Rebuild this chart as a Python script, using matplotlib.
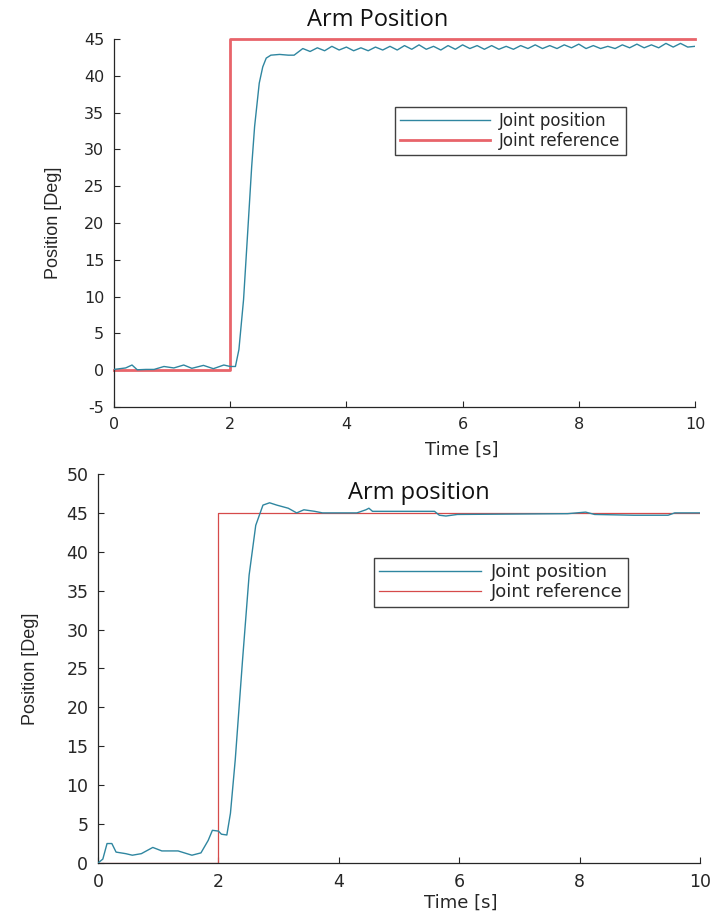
import matplotlib
matplotlib.use('Agg')
from matplotlib import pyplot as plt

plt.rcParams['axes.unicode_minus'] = False

# --- top plot: joint position ---
t1 = [0.0, 0.1, 0.2, 0.31, 0.4, 0.55, 0.69, 0.86, 1.03, 1.2, 1.34, 1.54, 1.71, 1.89,
      2.0, 2.09, 2.15, 2.23, 2.30, 2.37, 2.42, 2.50, 2.56, 2.62, 2.70, 2.85, 3.0, 3.1,
      3.25, 3.375, 3.5, 3.625, 3.75, 3.875, 4.0, 4.125, 4.25, 4.375, 4.5, 4.625,
      4.75, 4.875, 5.0, 5.125, 5.25, 5.375, 5.5, 5.625, 5.75, 5.875, 6.0, 6.125,
      6.25, 6.375, 6.5, 6.625, 6.75, 6.875, 7.0, 7.125, 7.25, 7.375, 7.5, 7.625,
      7.75, 7.875, 8.0, 8.125, 8.25, 8.375, 8.5, 8.625, 8.75, 8.875, 9.0, 9.125,
      9.25, 9.375, 9.5, 9.625, 9.75, 9.875, 10.0]
y1 = [0.1, 0.2, 0.3, 0.7, 0.05, 0.1, 0.1, 0.5, 0.3, 0.7, 0.25, 0.65, 0.2, 0.7,
      0.5, 0.5, 2.8, 9.6, 18.6, 27.7, 33.1, 39.0, 41.2, 42.4, 42.8, 42.9, 42.8, 42.8,
      43.7, 43.3, 43.8, 43.4, 44.0, 43.5, 43.9, 43.4, 43.8, 43.4, 43.9, 43.5,
      44.0, 43.5, 44.1, 43.6, 44.2, 43.6, 44.0, 43.5, 44.1, 43.6, 44.2, 43.7,
      44.1, 43.6, 44.1, 43.6, 44.0, 43.6, 44.1, 43.7, 44.2, 43.7, 44.1, 43.7,
      44.2, 43.8, 44.3, 43.7, 44.1, 43.7, 44.0, 43.7, 44.2, 43.8, 44.3, 43.8,
      44.2, 43.8, 44.4, 43.9, 44.4, 43.9, 44.0]

# --- bottom plot: joint position ---
t2 = [0.0, 0.08, 0.15, 0.23, 0.30, 0.46, 0.57, 0.72, 0.91, 1.06, 1.33, 1.56, 1.71,
      1.83, 1.90, 2.0, 2.05, 2.14, 2.20, 2.28, 2.40, 2.51, 2.62, 2.74, 2.85, 2.97,
      3.16, 3.30, 3.42, 3.60, 3.73, 4.30, 4.45, 4.50, 4.56, 5.59, 5.67, 5.78, 5.97,
      7.80, 8.10, 8.25, 8.90, 9.47, 9.58, 10.0]
y2 = [0.0, 0.5, 2.5, 2.5, 1.4, 1.2, 1.0, 1.2, 2.0, 1.55, 1.55, 1.0, 1.3,
      2.9, 4.2, 4.1, 3.7, 3.6, 6.4, 13.3, 26.0, 37.0, 43.4, 46.0, 46.3, 46.0,
      45.6, 45.0, 45.4, 45.2, 45.0, 45.0, 45.4, 45.6, 45.2, 45.2, 44.7, 44.6, 44.8,
      44.9, 45.1, 44.8, 44.7, 44.7, 45.0, 45.0]

# reference step (same for both)
ref_t = [0, 2, 2, 10]
ref_y = [0, 0, 45, 45]

txt = '#262626'
pos_col = '#2f86a0'

fig = plt.figure(figsize=(7.17, 9.17), dpi=100)
ax1 = fig.add_axes([0.159, 0.5562, 0.8103, 0.4013])
ax2 = fig.add_axes([0.1367, 0.0589, 0.8396, 0.4242])

ax1.plot(t1, y1, color=pos_col, lw=1.0, label='Joint position', zorder=3)
ax1.plot(ref_t, ref_y, color='#e8646a', lw=2.0, label='Joint reference', clip_on=False)
ax2.plot(t2, y2, color=pos_col, lw=1.0, label='Joint position', zorder=3)
ax2.plot(ref_t, ref_y, color='#d64a4a', lw=0.9, label='Joint reference')

ax1.set_ylim(-5, 45)
ax1.set_yticks(range(-5, 46, 5))
ax2.set_ylim(0, 50)
ax2.set_yticks(range(0, 51, 5))

for ax, fs in ((ax1, 11.5), (ax2, 12.5)):
    ax.set_xlim(0, 10)
    ax.set_xticks([0, 2, 4, 6, 8, 10])
    ax.spines['top'].set_visible(False)
    ax.spines['right'].set_visible(False)
    for s in ('left', 'bottom'):
        ax.spines[s].set_color(txt)
        ax.spines[s].set_linewidth(0.9)
    ax.tick_params(direction='in', length=4, width=0.8, color=txt,
                   labelcolor=txt, labelsize=fs, pad=7)
    ax.set_xlabel('Time [s]', fontsize=13, color=txt)
    ax.set_ylabel('Position [Deg]', fontsize=13, color=txt,
                  family='Liberation Sans')

ax1.xaxis.set_label_coords(0.599, -0.092)
ax1.yaxis.set_label_coords(-0.0895, 0.5)
ax2.xaxis.set_label_coords(0.603, -0.080)
ax2.yaxis.set_label_coords(-0.098, 0.5)

fig.text(0.527, 0.978, 'Arm Position', fontsize=17, family='Open Sans',
         ha='center', va='center', color='#111111')
fig.text(0.584, 0.4624, 'Arm position', fontsize=17, family='Open Sans',
         ha='center', va='center', color='#111111')

leg1 = ax1.legend(loc='upper left', bbox_to_anchor=(0.551, 0.8833),
                  bbox_transform=fig.transFigure, fontsize=12, frameon=True,
                  fancybox=False, edgecolor='#111111', borderpad=0.3,
                  handlelength=5.4, handletextpad=0.55, labelspacing=0.1,
                  borderaxespad=0)
leg1.get_frame().set_linewidth(1.0)
leg2 = ax2.legend(loc='upper left', bbox_to_anchor=(0.5216, 0.3915),
                  bbox_transform=fig.transFigure, fontsize=13, frameon=True,
                  fancybox=False, edgecolor='#111111', borderpad=0.3,
                  handlelength=5.6, handletextpad=0.55, labelspacing=0.1,
                  borderaxespad=0)
leg2.get_frame().set_linewidth(1.0)
for leg in (leg1, leg2):
    for t in leg.get_texts():
        t.set_color(txt)

fig.savefig('out.png', dpi=100)
